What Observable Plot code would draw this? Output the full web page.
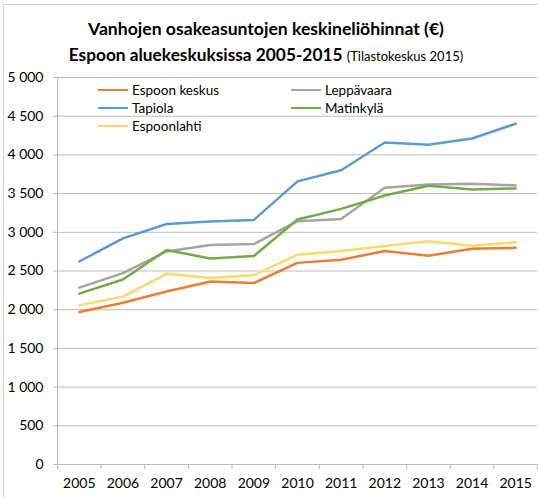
<!DOCTYPE html>
<html>
<head>
<meta charset="utf-8">
<script src="https://cdn.jsdelivr.net/npm/d3@7"></script>
<script src="https://cdn.jsdelivr.net/npm/@observablehq/plot@0.6"></script>
<style>
  html, body { margin: 0; padding: 0; background: #fff; overflow: hidden; }
  #wrap { position: relative; width: 538px; height: 497px; overflow: hidden; font-family: Lato, "Open Sans", sans-serif; color: #000; }
  #border { position: absolute; left: 3px; top: 4px; width: 700px; height: 700px; border: 1px solid #d0d0d0; box-sizing: border-box; }
  #title { position: absolute; left: 0; top: 0; width: 532px; text-align: center; }
  #t1 { position: absolute; left: 0; right: 0; top: 18px; font-weight: bold; font-size: 17.6px; }
  #t2 { position: absolute; left: 0; right: 0; top: 44px; font-weight: bold; font-size: 17.3px; }
  #t2 span { font-weight: normal; font-size: 13px; }
  #chart { position: absolute; left: 0; top: 57px; }
  #legend { position: absolute; left: 0; top: 0; font-size: 13.5px; }
  .item { position: absolute; height: 18px; line-height: 18px; white-space: nowrap; }
  .item i { position: absolute; left: 0; top: 8px; width: 30px; height: 0; border-top: 2.5px solid; }
  .item b { position: absolute; left: 34px; top: 0; font-weight: normal; }
</style>
</head>
<body>
<div id="wrap">
  <div id="border"></div>
  <div id="title">
    <div id="t1">Vanhojen osakeasuntojen keskineliöhinnat (€)</div>
    <div id="t2">Espoon aluekeskuksissa 2005-2015 <span>(Tilastokeskus 2015)</span></div>
  </div>
  <div id="chart"></div>
  <div id="legend"></div>
</div>
<script>
const years = [2005, 2006, 2007, 2008, 2009, 2010, 2011, 2012, 2013, 2014, 2015];
const seriesNames = ["Espoon keskus", "Leppävaara", "Tapiola", "Matinkylä", "Espoonlahti"];
const seriesColors = ["#ED7D31", "#A5A5A5", "#5B9BD5", "#70AD47", "#FFD966"];
const espoonKeskus = [1970, 2090, 2235, 2365, 2345, 2605, 2645, 2758, 2697, 2788, 2800];
const leppavaara   = [2285, 2472, 2753, 2835, 2848, 3143, 3173, 3576, 3619, 3628, 3606];
const tapiola      = [2623, 2922, 3108, 3139, 3160, 3658, 3801, 4160, 4130, 4212, 4403];
const matinkyla    = [2208, 2390, 2771, 2662, 2693, 3165, 3303, 3476, 3602, 3554, 3567];
const espoonlahti  = [2056, 2169, 2463, 2411, 2446, 2710, 2758, 2823, 2883, 2827, 2870];
const yTicks = [0, 500, 1000, 1500, 2000, 2500, 3000, 3500, 4000, 4500, 5000];

const seriesValues = [espoonKeskus, leppavaara, tapiola, matinkyla, espoonlahti];
const data = [];
seriesNames.forEach((name, s) => {
  years.forEach((yr, i) => data.push({series: name, year: yr, value: seriesValues[s][i]}));
});
const boundaries = [...years.map(y => y - 0.5), years[years.length - 1] + 0.5];
const fmt = v => d3.format(",")(v).replace(/,/g, " ");

const plot = Plot.plot({
  width: 538,
  height: 440,
  marginTop: 20,
  marginLeft: 57,
  marginRight: 1,
  marginBottom: 33,
  style: {fontFamily: "Lato, 'Open Sans', sans-serif", fontSize: "14px", color: "#000", background: "transparent"},
  x: {domain: [years[0] - 0.5, years[years.length - 1] + 0.5]},
  y: {domain: [0, 5000]},
  color: {domain: seriesNames, range: seriesColors},
  marks: [
    Plot.gridY(yTicks, {stroke: "#bcbcbc", strokeOpacity: 1, strokeWidth: 1}),
    Plot.ruleX([boundaries[0]], {y1: 0, y2: 5000, stroke: "#bcbcbc", strokeWidth: 1}),
    Plot.axisY(yTicks, {tickSize: 4, tickPadding: 10, tickFormat: fmt, stroke: "#bcbcbc", label: null, fontSize: 14}),
    Plot.axisX(boundaries, {tickSize: 5, tickFormat: () => "", stroke: "#bcbcbc", label: null}),
    Plot.axisX(years, {tickSize: 0, tickPadding: 14, tickFormat: d => String(d), label: null, fontSize: 14}),
    Plot.line(data, {x: "year", y: "value", z: "series", stroke: "series", strokeWidth: 2.5, strokeLinejoin: "round", strokeLinecap: "round"})
  ]
});
document.getElementById("chart").appendChild(plot);

// legend
const legendPos = [[98, 81], [291, 81], [98, 99], [291, 99], [98, 117]];
const legend = document.getElementById("legend");
seriesNames.forEach((name, i) => {
  const d = document.createElement("div");
  d.className = "item";
  d.style.left = legendPos[i][0] + "px";
  d.style.top = legendPos[i][1] + "px";
  const line = document.createElement("i");
  line.style.borderTopColor = seriesColors[i];
  const t = document.createElement("b");
  t.textContent = name;
  d.appendChild(line); d.appendChild(t);
  legend.appendChild(d);
});
</script>
</body>
</html>
